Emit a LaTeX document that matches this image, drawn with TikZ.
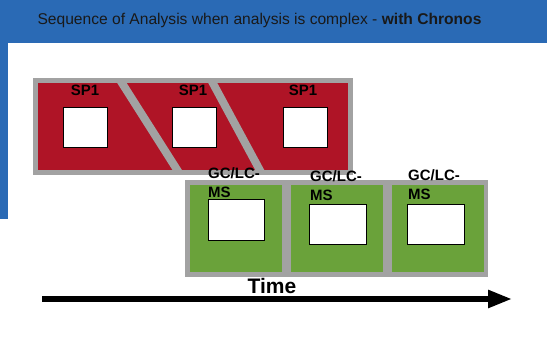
\documentclass[tikz,border=0pt]{standalone}
\usepackage{fontspec}
\setmainfont{Liberation Sans}
\usetikzlibrary{positioning,arrows.meta}

\definecolor{headerblue}{RGB}{42,106,181}
\definecolor{spred}{RGB}{175,20,38}
\definecolor{msgreen}{RGB}{106,162,58}
\definecolor{bordergray}{RGB}{162,162,162}

\begin{document}
\begin{tikzpicture}[x=1pt, y=-1pt]
    % Define styles
    \tikzset{spbar/.style={draw=bordergray, line width=5pt, fill=spred, inner sep=0pt}}
    \tikzset{msstage/.style={fill=msgreen, inner sep=0pt, minimum width=92pt, minimum height=87pt}}
    \tikzset{slot/.style={draw=black, line width=0.6pt, fill=white, inner sep=0pt}}
    \tikzset{steplabel/.style={font=\fontsize{15}{19}\selectfont\bfseries, inner sep=0pt}}
    \tikzset{band/.style={draw=bordergray, line width=8pt}}

    \useasboundingbox (0,0) rectangle (547,347);

    % Draw header
    \fill[headerblue] (0,0) rectangle (547,43);
    \fill[headerblue] (0,43) rectangle (8,219);
    \node[font=\fontsize{15.6}{18}\selectfont, text=black!90] (title) at (259.5,20)
        {Sequence of Analysis when analysis is complex - \textbf{with Chronos}};

    % Draw SP1 bar
    \node[spbar, minimum width=315pt, minimum height=92pt] (sp) at (193,126.5) {};
    \begin{scope}
        \clip (35.5,80.5) rectangle (350.5,172.5);
        \coordinate (b1top) at (117.5,76);
        \coordinate (b1bot) at (181,176);
        \coordinate (b2top) at (209,76);
        \coordinate (b2bot) at (263,176);
        \draw[band] (b1top) -- (b1bot);
        \draw[band] (b2top) -- (b2bot);
    \end{scope}
    \node[slot, minimum width=44pt, minimum height=40pt] (sp1box) at (85,127) {};
    \node[slot, minimum width=44pt, minimum height=40pt] (sp2box) at (194,127) {};
    \node[slot, minimum width=44pt, minimum height=40pt] (sp3box) at (305,127) {};
    \node[steplabel] (sp1) at (85,90) {SP1};
    \node[steplabel] (sp2) at (193,90) {SP1};
    \node[steplabel] (sp3) at (303,90) {SP1};

    % Draw GC/LC-MS stages
    \fill[bordergray] (185,180) rectangle (488,277);
    \node[msstage] (ms1) at (236,228.5) {};
    \node[msstage] (ms2) at (337,228.5) {};
    \node[msstage] (ms3) at (437.5,228.5) {};
    \node[slot, minimum width=56pt, minimum height=41pt] (ms1box) at (236,219.5) {};
    \node[slot, minimum width=57pt, minimum height=40pt] (ms2box) at (337.5,224) {};
    \node[slot, minimum width=57pt, minimum height=40pt] (ms3box) at (435.5,224) {};
    \node[steplabel, align=left, anchor=west] (ms1lbl) at (208,182.5) {GC/LC-\\MS};
    \node[steplabel, align=left, anchor=west] (ms2lbl) at (310,186) {GC/LC-\\MS};
    \node[steplabel, align=left, anchor=west] (ms3lbl) at (408,185) {GC/LC-\\MS};

    % Time axis
    \node[font=\fontsize{21}{24}\selectfont\bfseries] (time) at (272,286) {Time};
    \coordinate (tstart) at (42,299);
    \coordinate (tend) at (512,299);
    \draw[line width=5.5pt, -{Triangle[length=24pt, width=17pt]}] (tstart) -- (tend);
\end{tikzpicture}
\end{document}
